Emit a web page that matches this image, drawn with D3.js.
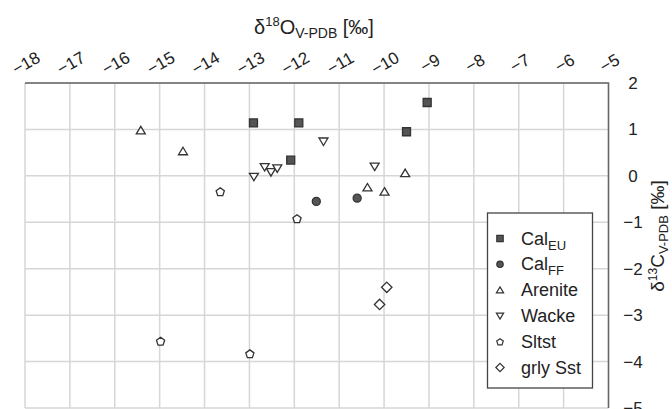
<!DOCTYPE html>
<html>
<head>
<meta charset="utf-8">
<script src="https://cdn.jsdelivr.net/npm/d3@7"></script>
<style>
  body { margin: 0; background: #fff; }
  svg { display: block; font-family: "Liberation Sans", Arial, sans-serif; }
</style>
</head>
<body>
<div id="chart"></div>
<script>
var width = 672,
    height = 409;

// data (x = d18O, y = d13C)
var calEUx = [-12.91, -11.90, -12.08, -9.04, -9.50],
    calEUy = [1.14, 1.14, 0.34, 1.58, 0.95];
var calFFx = [-11.51, -10.60],
    calFFy = [-0.55, -0.48];
var areniteX = [-15.42, -14.48, -9.53, -10.37, -9.99],
    areniteY = [0.98, 0.53, 0.06, -0.25, -0.34];
var wackeX = [-12.66, -12.52, -12.38, -12.90, -11.35, -10.21],
    wackeY = [0.19, 0.08, 0.16, -0.02, 0.74, 0.20];
var sltstX = [-13.65, -11.94, -14.98, -12.99],
    sltstY = [-0.34, -0.92, -3.56, -3.83];
var grlyX = [-9.94, -10.10],
    grlyY = [-2.40, -2.77];

var xTicks = d3.range(-18, -4, 1);
var yTicks = d3.range(-5, 3, 1);

var series = [
  { name: "Cal", sub: "EU", shape: "square", xs: calEUx, ys: calEUy },
  { name: "Cal", sub: "FF", shape: "circle", xs: calFFx, ys: calFFy },
  { name: "Arenite", sub: "", shape: "up", xs: areniteX, ys: areniteY },
  { name: "Wacke", sub: "", shape: "down", xs: wackeX, ys: wackeY },
  { name: "Sltst", sub: "", shape: "pent", xs: sltstX, ys: sltstY },
  { name: "grly Sst", sub: "", shape: "diamond", xs: grlyX, ys: grlyY }
];

var x = d3.scaleLinear().domain([-18, -5]).range([25, 608.5]);
var y = d3.scaleLinear().domain([-5, 2]).range([408, 83]);

var svg = d3.select("#chart").append("svg")
  .attr("width", width)
  .attr("height", height);

// grid
svg.append("g").selectAll("line")
  .data(xTicks)
  .enter().append("line")
  .attr("x1", function(d){ return x(d); })
  .attr("x2", function(d){ return x(d); })
  .attr("y1", y(2)).attr("y2", y(-5))
  .style("stroke", "#d6d6d6").style("stroke-width", 1.5);

svg.append("g").selectAll("line")
  .data(yTicks)
  .enter().append("line")
  .attr("y1", function(d){ return y(d); })
  .attr("y2", function(d){ return y(d); })
  .attr("x1", x(-18)).attr("x2", x(-5))
  .style("stroke", "#d6d6d6").style("stroke-width", 1.5);

// top and right frame
svg.append("path")
  .attr("d", "M" + x(-18) + "," + y(2) + "H" + x(-5) + "V" + y(-5))
  .style("fill", "none").style("stroke", "#666").style("stroke-width", 1.5);

// top tick labels, rotated
svg.append("g").selectAll("text")
  .data(xTicks)
  .enter().append("text")
  .attr("transform", function(d){ return "translate(" + (x(d) + 1) + ",63) rotate(-30)"; })
  .attr("text-anchor", "middle")
  .attr("dy", "0.35em")
  .style("font-size", "17px")
  .style("fill", "#222")
  .text(function(d){ return "\u2212" + Math.abs(d); });

// right tick labels
svg.append("g").selectAll("text")
  .data(yTicks)
  .enter().append("text")
  .attr("x", 633)
  .attr("y", function(d){ return y(d) + 6; })
  .attr("text-anchor", "middle")
  .style("font-size", "17px")
  .style("fill", "#222")
  .text(function(d){ return d < 0 ? "\u2212" + Math.abs(d) : d; });

// axis titles
var xt = svg.append("text")
  .attr("x", 314).attr("y", 34)
  .attr("text-anchor", "middle")
  .style("font-size", "20px").style("fill", "#222");
xt.append("tspan").text("\u03b4");
xt.append("tspan").attr("dy", -8).style("font-size", "13px").text("18");
xt.append("tspan").attr("dy", 8).text("O");
xt.append("tspan").attr("dy", 4).style("font-size", "14px").text("V-PDB");
xt.append("tspan").attr("dy", -4).text(" [\u2030]");

var yt = svg.append("text")
  .attr("transform", "translate(664,236) rotate(-90)")
  .attr("text-anchor", "middle")
  .style("font-size", "19px").style("fill", "#222");
yt.append("tspan").text("\u03b4");
yt.append("tspan").attr("dy", -7).style("font-size", "12px").text("13");
yt.append("tspan").attr("dy", 7).text("C");
yt.append("tspan").attr("dy", 4).style("font-size", "13px").text("V-PDB");
yt.append("tspan").attr("dy", -4).text(" [\u2030]");

// marker shapes
function shapePath(shape, k) {
  var s;
  if (shape === "square") { s = 4 * k; return "M" + -s + "," + -s + "H" + s + "V" + s + "H" + -s + "Z"; }
  if (shape === "circle") { s = 4 * k; return "M" + s + ",0A" + s + "," + s + " 0 1,1 " + -s + ",0A" + s + "," + s + " 0 1,1 " + s + ",0Z"; }
  if (shape === "up") { s = k; return "M0," + (-4 * s) + "L" + (4.5 * s) + "," + (3.5 * s) + "L" + (-4.5 * s) + "," + (3.5 * s) + "Z"; }
  if (shape === "down") { s = k; return "M0," + (4 * s) + "L" + (4.5 * s) + "," + (-3.5 * s) + "L" + (-4.5 * s) + "," + (-3.5 * s) + "Z"; }
  if (shape === "diamond") { s = 5.2 * k; return "M0," + -s + "L" + s + ",0L0," + s + "L" + -s + ",0Z"; }
  if (shape === "pent") {
    s = 4.3 * k;
    var pts = d3.range(5).map(function(i){
      var a = -Math.PI / 2 + i * 2 * Math.PI / 5;
      return [s * Math.cos(a), s * Math.sin(a) + 0.5 * k];
    });
    return "M" + pts.join("L") + "Z";
  }
}

function fillOf(shape) {
  return (shape === "square" || shape === "circle") ? "#555" : "#fff";
}

series.forEach(function(sr){
  var pts = sr.xs.map(function(v, i){ return { x: v, y: sr.ys[i] }; });
  svg.append("g").selectAll("path")
    .data(pts)
    .enter().append("path")
    .attr("transform", function(d){ return "translate(" + x(d.x) + "," + y(d.y) + ")"; })
    .attr("d", shapePath(sr.shape, 1))
    .style("fill", fillOf(sr.shape))
    .style("stroke", "#333")
    .style("stroke-width", 1.3);
});

// legend
var lg = svg.append("g");
lg.append("rect")
  .attr("x", 487.5).attr("y", 213).attr("width", 105).attr("height", 175)
  .style("fill", "#fff").style("stroke", "#444").style("stroke-width", 1.3);

var ly = d3.scalePoint().domain(d3.range(series.length)).range([238.5, 367.5]);

series.forEach(function(sr, i){
  lg.append("path")
    .attr("transform", "translate(500," + ly(i) + ")")
    .attr("d", shapePath(sr.shape, 0.8))
    .style("fill", fillOf(sr.shape))
    .style("stroke", "#333")
    .style("stroke-width", 1.2);
  var t = lg.append("text")
    .attr("x", 521).attr("y", ly(i) + 6)
    .style("font-size", "18px").style("fill", "#222");
  t.append("tspan").text(sr.name);
  if (sr.sub) t.append("tspan").attr("dy", 5).style("font-size", "13px").text(sr.sub);
});
</script>
</body>
</html>
